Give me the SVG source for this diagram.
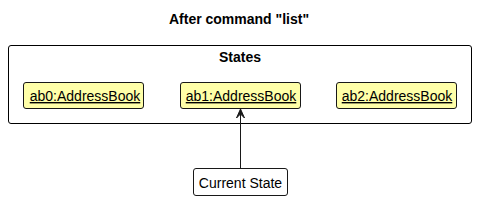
<svg xmlns="http://www.w3.org/2000/svg" width="478" height="200" viewBox="0 0 478 200">
<style>
text{font-family:"Liberation Sans",Arial,sans-serif;fill:#000}
.title{font-size:14px;font-weight:bold}
.obj rect{fill:#FFFFA8;stroke:#181818;stroke-width:1}
.obj text{font-size:14px;text-decoration:underline}
.plain rect{fill:#FFFFFF;stroke:#181818;stroke-width:1}
.plain text{font-size:14px}
.pkg{fill:none;stroke:#000;stroke-width:1}
</style>
<rect width="478" height="200" fill="#fff"/>
<text class="title" x="239" y="24" text-anchor="middle">After command "list"</text>
<g id="States">
<rect class="pkg" x="8.5" y="45.5" width="463" height="78" rx="2.5"/>
<text class="title" x="240" y="62" text-anchor="middle">States</text>
</g>
<g id="ab0" class="obj">
<rect x="23.5" y="82.5" width="120" height="26" rx="2.5"/>
<text x="85" y="101" text-anchor="middle">ab0:AddressBook</text>
</g>
<g id="ab1" class="obj">
<rect x="180.5" y="82.5" width="120" height="26" rx="2.5"/>
<text x="241" y="101" text-anchor="middle">ab1:AddressBook</text>
</g>
<g id="ab2" class="obj">
<rect x="336.5" y="82.5" width="120" height="26" rx="2.5"/>
<text x="397" y="101" text-anchor="middle">ab2:AddressBook</text>
</g>
<g id="current" class="plain">
<rect x="193.5" y="168.5" width="94" height="27" rx="2.5"/>
<text x="240.5" y="188" text-anchor="middle">Current State</text>
</g>
<g id="connectors">
<line x1="240.5" y1="168" x2="240.5" y2="112" stroke="#181818" stroke-width="1"/>
<polygon points="240.5,109 236.5,118 240.5,114 244.5,118" fill="#181818" stroke="#181818" stroke-width="1"/>
</g>
</svg>
